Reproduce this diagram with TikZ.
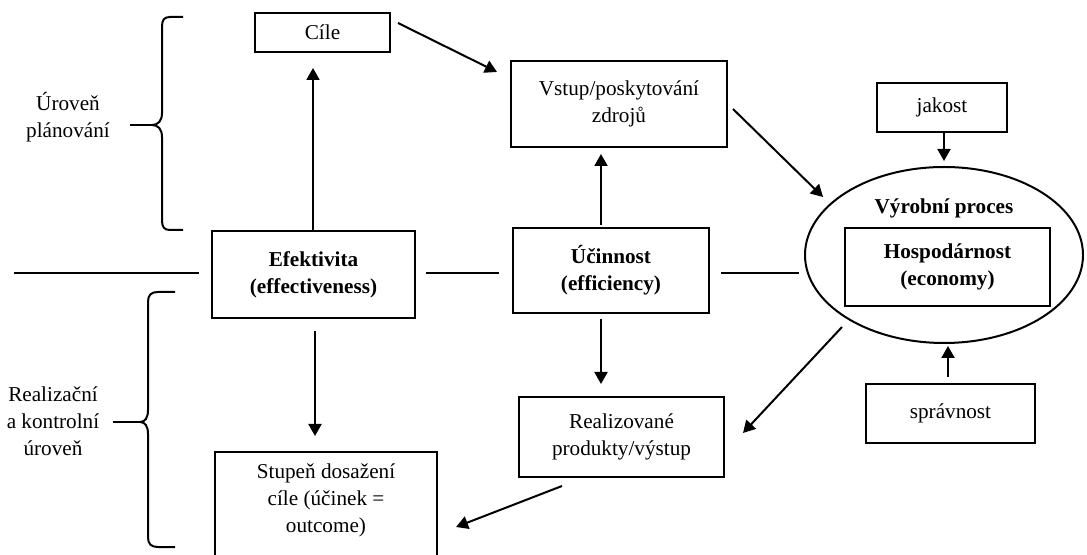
\documentclass[tikz,border=0pt]{standalone}
\usepackage{fontspec}
\setmainfont{Liberation Serif}
\usetikzlibrary{arrows.meta,shapes.geometric,calc}
\begin{document}
\begin{tikzpicture}[x=0.5pt,y=-0.5pt,
  txt/.style={font=\fontsize{10.6}{13.5}\selectfont},
  bold/.style={font=\fontsize{10.6}{13.5}\selectfont\bfseries},
  box/.style={draw, line width=1pt, inner sep=0pt, align=center, txt},
  lbl/.style={inner sep=0pt, align=center, txt},
  arr/.style={line width=1pt, -{Triangle[length=6pt,width=6.5pt]}},
  ln/.style={line width=1pt},
  bracepath/.style={line width=1pt}]
\useasboundingbox (0,0) rectangle (1087,555);

% boxes
\node[box, minimum width=67.5pt, minimum height=19.5pt] (cile) at (322.5,32.5) {Cíle};
\node[box, minimum width=108pt, minimum height=43pt] (vstup) at (619,104) {Vstup/poskytování\\zdrojů};
\node[box, bold, minimum width=101.5pt, minimum height=43.5pt] (ef) at (313.5,274.5) {Efektivita\\(effectiveness)};
\node[box, bold, minimum width=98pt, minimum height=42.5pt] (uc) at (611,270.5) {Účinnost\\(efficiency)};
\node[draw, ellipse, line width=1pt, inner sep=0pt, minimum width=139pt, minimum height=88pt] (proc) at (944,255) {};
\node[lbl, bold] (proctitle) at (944,208) {Výrobní proces};
\node[box, bold, minimum width=102.5pt, minimum height=39pt] (hosp) at (947.5,267) {Hospodárnost\\(economy)};
\node[box, minimum width=65pt, minimum height=24.5pt] (jak) at (942,107.5) {jakost};
\node[box, minimum width=84.5pt, minimum height=29.5pt] (spr) at (950.5,413.5) {správnost};
\node[box, minimum width=102.5pt, minimum height=40pt] (real) at (621.5,437) {Realizované\\produkty/výstup};
\node[draw, line width=1pt, inner sep=0pt, minimum width=111pt, minimum height=54pt] (st) at (326,506) {};
\node[lbl] (sttext) at (326,500) {Stupeň dosažení\\cíle (účinek =\\outcome)};

% level labels
\node[lbl] (plan) at (68,117) {Úroveň\\plánování};
\node[lbl] (realiz) at (53,421) {Realizační\\a kontrolní\\úroveň};

% braces
\draw[bracepath] (183,17) -- (170,17) .. controls (164,17) and (162,20) .. (162,27)
  -- (162,113) .. controls (162,121) and (158,125) .. (152,125)
  .. controls (158,125) and (162,129) .. (162,137)
  -- (162,220) .. controls (162,227) and (164,230) .. (170,230) -- (183,230);
\draw[bracepath] (175,292) -- (158,292) .. controls (151,292) and (148,295) .. (148,302)
  -- (148,410) .. controls (148,418) and (145,422) .. (140,422)
  .. controls (145,422) and (148,426) .. (148,434)
  -- (148,537) .. controls (148,544) and (151,547) .. (158,547) -- (175,547);
\coordinate (tipA) at (152,125);
\coordinate (tipB) at (140,422);
\draw[ln, shorten <=10pt] (plan.east |- tipA) -- (tipA);
\draw[ln, shorten <=6.5pt] (realiz.east |- tipB) -- (tipB);

% dividing line and row links
\coordinate (hl) at (14,273);
\coordinate (midrow) at (0,273);
\draw[ln, shorten >=6pt] (hl) -- (hl -| ef.west);
\draw[ln, shorten <=5pt, shorten >=6.5pt] (ef.east |- midrow) -- (uc.west |- midrow);
\draw[ln, shorten <=5.5pt, shorten >=2.5pt] (uc.east |- midrow) -- (proc.west |- midrow);

% vertical arrows
\coordinate (colE) at (313,0);
\coordinate (colF) at (315,0);
\coordinate (colU) at (601,0);
\coordinate (colJ) at (944,0);
\coordinate (colS) at (948,0);
\draw[arr, shorten >=7.5pt] (ef.north -| colE) -- (cile.south -| colE);
\draw[arr, shorten <=6pt, shorten >=7.5pt] (ef.south -| colF) -- (st.north -| colF);
\draw[arr, shorten <=1pt, shorten >=3pt] (uc.north -| colU) -- (vstup.south -| colU);
\draw[arr, shorten <=2.5pt, shorten >=6pt] (uc.south -| colU) -- (real.north -| colU);
\draw[arr, shorten >=2.5pt] (jak.south -| colJ) -- (proc.north -| colJ);
\draw[arr, shorten <=3pt, shorten >=1pt] (spr.north -| colS) -- (proc.south -| colS);

% diagonal arrows
\draw[arr] ([shift={(7,-9.5)}]cile.east) -- ([shift={(-13,12)}]vstup.north west);
\draw[arr] ([shift={(5,5)}]vstup.east) -- ([shift={(-121,-58)}]proc.center);
\draw[arr] ([shift={(-102,72)}]proc.center) -- ([shift={(18,-4)}]real.east);
\draw[arr] ([shift={(-59.5,8)}]real.south) -- ([shift={(18,21)}]st.east);
\end{tikzpicture}
\end{document}
